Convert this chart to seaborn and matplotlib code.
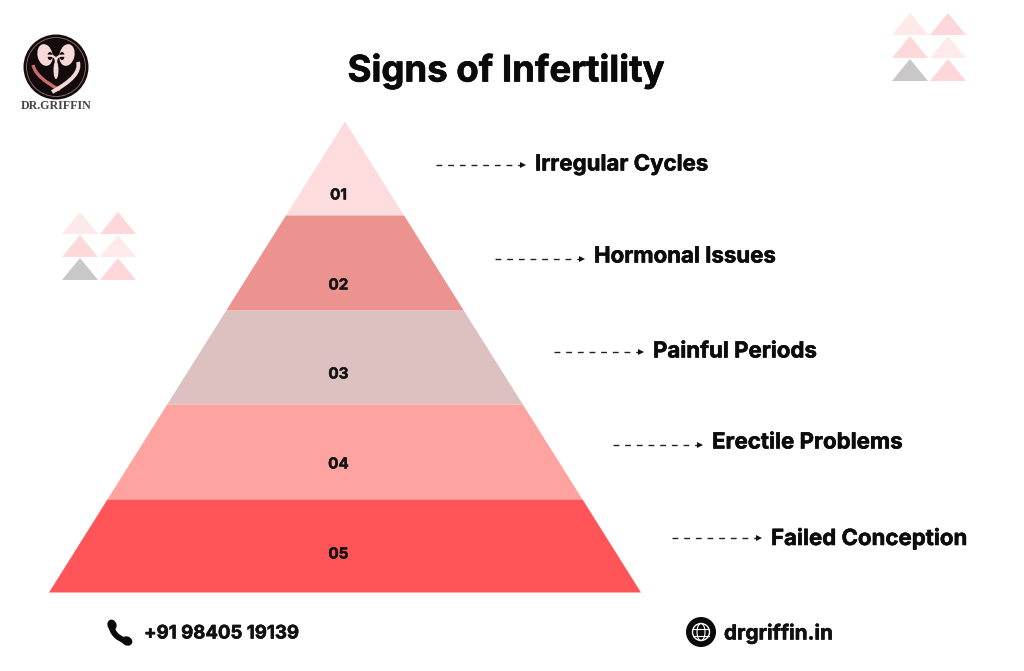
import matplotlib
matplotlib.use("Agg")
import matplotlib.pyplot as plt
import matplotlib.patheffects as pe
import seaborn as sns
import numpy as np
from matplotlib.patches import Circle, Ellipse, PathPatch
from matplotlib.path import Path

title = "Signs of Infertility"
numbers = ["01", "02", "03", "04", "05"]
labels = ["Irregular Cycles", "Hormonal Issues", "Painful Periods", "Erectile Problems", "Failed Conception"]
band_heights = [94, 95, 94, 95, 93]
colors = ["#FDDCDD", "#EC9390", "#DDC0C0", "#FFA3A1", "#FF5558"]
phone = "+91 98405 19139"
site = "drgriffin.in"
brand = "DR.GRIFFIN"
deco_colors = ["#FDE9E9", "#FDD7D9", "#FDD9DA", "#FEEAEA", "#C9C7C7", "#FDD7D9"]

sns.set_theme(style="white")
FONT = ["Inter", "DejaVu Sans"]
plt.rcParams["font.family"] = FONT

fig = plt.figure(figsize=(10.24, 6.71), dpi=100, facecolor="white")
ax = fig.add_axes([0, 0, 1, 1])
ax.set_xlim(0, 1024)
ax.set_ylim(671, 0)
ax.axis("off")

def heavy(width=0.45, color="#0a0a0a"):
    return [pe.withStroke(linewidth=width, foreground=color)]

# pyramid
apex_x, apex_y, half_base = 345, 121, 296
total = sum(band_heights)
edges = apex_y + np.concatenate([[0], np.cumsum(band_heights)])
for i, c in enumerate(colors):
    ys = np.array([edges[i], edges[i + 1]])
    hw = half_base * (ys - apex_y) / total
    ax.fill_betweenx(ys, apex_x - 0.5 - hw, apex_x - 0.5 + hw, color=c, lw=0, zorder=2)

num_y = [196, 286, 375, 465, 555]
for n, y in zip(numbers, num_y):
    ax.text(338.5, y - 1, n, ha="center", va="center", fontsize=11, fontweight="bold", color="#151515", zorder=3,
            path_effects=heavy(0.3))

# dashed arrows and labels
arrow_x = [436, 495, 554, 613, 672]
arrow_y = [165, 259, 352, 445, 538]
text_y = [164.5, 256.5, 351.5, 442.5, 538.5]
for x, ay, ty, lab in zip(arrow_x, arrow_y, text_y, labels):
    ax.plot([x, x + 84], [ay, ay], color="#222222", lw=1, dashes=(4.2, 4.2))
    ax.fill([x + 84, x + 90, x + 84], [ay - 3, ay, ay + 3], color="#111111", lw=0)
    ax.text(x + 99, ty, lab, ha="left", va="center", fontsize=16, fontweight="bold", color="#0c0c0c",
            path_effects=heavy(0.4))

ax.text(506, 71, title, ha="center", va="center", fontsize=26.3, fontweight="bold", color="#0a0a0a",
        path_effects=heavy(0.5))

# decorative triangles
def cluster(x0, y0):
    k = 0
    for r in range(3):
        for c in range(2):
            l = x0 + c * 38
            t = y0 + r * 23
            ax.fill([l, l + 18, l + 36], [t + 22, t, t + 22], color=deco_colors[k], lw=0, zorder=1)
            k += 1

cluster(892, 13)
cluster(62, 212)

# logo
Q = [Path.MOVETO, Path.CURVE3, Path.CURVE3]
C4 = [Path.MOVETO, Path.CURVE4, Path.CURVE4, Path.CURVE4]
ax.add_patch(Circle((56, 67), 32.5, fc="#140a0c", ec="none", zorder=2))
ax.add_patch(Circle((56, 67), 29.5, fc="none", ec="#8a7478", lw=0.6, zorder=3))
ax.add_patch(Ellipse((45, 55), 15, 22, angle=-12, fc="#F8D9D9", ec="none", zorder=3))
ax.add_patch(Ellipse((67, 55), 15, 22, angle=12, fc="#F8D9D9", ec="none", zorder=3))
ax.add_patch(Ellipse((50, 56), 5, 8, fc="#140a0c", ec="none", zorder=4))
ax.add_patch(Ellipse((62, 56), 5, 8, fc="#140a0c", ec="none", zorder=4))
ax.add_patch(PathPatch(Path([(47, 56), (56, 54), (56, 62)], Q), fc="none", ec="#F0DADA", lw=1.6, zorder=5))
ax.add_patch(PathPatch(Path([(65, 56), (56, 54), (56, 62)], Q), fc="none", ec="#F0DADA", lw=1.6, zorder=5))
ax.add_patch(Ellipse((56, 70), 5, 18, fc="#EFD9D9", ec="none", zorder=5))
ax.add_patch(PathPatch(Path([(33, 65), (36, 78), (60, 90)], Q), fc="none", ec="#C96C6C", lw=2.4, zorder=3))
ax.add_patch(PathPatch(Path([(78, 62), (82, 76), (52, 92)], Q), fc="none", ec="#F0DADA", lw=2.8, zorder=6))
ax.text(56.5, 106, brand, ha="center", va="center", fontsize=8.6, fontweight="bold",
        family=["Liberation Serif"], color="#4a4244")

# phone icon
handset = Path([(111, 624), (112, 637), (128, 642)], Q)
ax.add_patch(PathPatch(handset, fc="none", ec="#0a0a0a", lw=4.2, capstyle="round"))
ax.add_patch(Ellipse((112, 625), 9, 11, angle=-20, fc="#0a0a0a", ec="none"))
ax.add_patch(Ellipse((127, 641), 11, 9, angle=25, fc="#0a0a0a", ec="none"))
ax.text(144, 634, phone, ha="left", va="center", fontsize=13.4, fontweight="bold", color="#111111",
        path_effects=heavy(0.4))

# globe icon
ax.add_patch(Circle((701, 632), 15, fc="#0a0a0a", ec="none"))
ax.add_patch(Circle((701, 632), 8.5, fc="none", ec="white", lw=1))
ax.add_patch(Ellipse((701, 632), 8, 17, fc="none", ec="white", lw=0.8))
for dy in (-3.5, 3.5):
    hw = np.sqrt(8.5**2 - dy**2)
    ax.plot([701 - hw, 701 + hw], [632 + dy, 632 + dy], color="white", lw=0.8)
ax.text(724, 633, site, ha="left", va="center", fontsize=14.9, fontweight="bold", color="#111111",
        path_effects=heavy(0.4))

fig.savefig("out.png", dpi=100, facecolor="white")
